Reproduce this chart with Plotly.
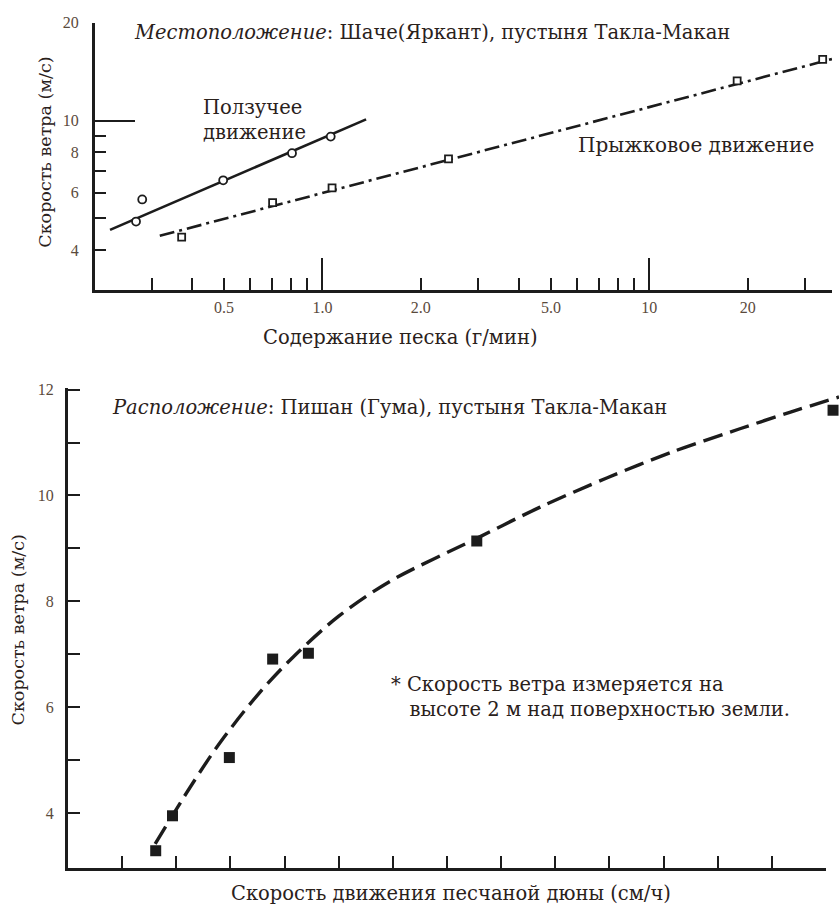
import math
import plotly.graph_objects as go

W, H = 839, 907

# ---- upper panel: wind speed vs. sand content (log-log) ----
creep_x = [0.269, 0.281, 0.497, 0.807, 1.06]
creep_y = [4.89, 5.72, 6.55, 7.94, 8.93]
creep_fit_x = [0.224, 1.36]
creep_fit_y = [4.61, 10.09]

salt_x = [0.371, 0.704, 1.07, 2.43, 18.56, 33.9]
salt_y = [4.38, 5.59, 6.21, 7.63, 13.25, 15.44]
salt_fit_x = [0.318, 36.4]
salt_fit_y = [4.42, 15.5]

top_xticks = [0.3, 0.4, 0.5, 0.6, 0.7, 0.8, 0.9, 1, 2, 3, 4, 5, 6, 7, 8, 9, 10, 20, 30]
top_xlabels = ["", "", "0.5", "", "", "", "", "1.0", "2.0", "", "", "5.0", "", "", "", "", "10", "20", ""]
top_xlong = [1, 10]
top_yticks = [4, 5, 6, 7, 8, 9, 10, 20]
top_ylabels = ["4", "", "6", "", "8", "", "10", "20"]
top_ylong = [10]

# ---- lower panel: wind speed vs. dune migration speed ----
dune_x = [1.62, 1.93, 2.98, 3.78, 4.44, 7.55, 14.13]
dune_y = [3.29, 3.95, 5.05, 6.91, 7.02, 9.14, 11.61]
curve_x = [1.61, 2.25, 2.8, 3.5, 4.16, 5.0, 5.95, 7.55, 8.72, 9.95, 11.18, 12.41, 13.33, 14.24]
curve_y = [3.42, 4.48, 5.32, 6.23, 6.95, 7.72, 8.38, 9.19, 9.78, 10.33, 10.83, 11.26, 11.57, 11.86]

bot_xticks = list(range(1, 15))
bot_yticks = [4, 5, 6, 7, 8, 9, 10, 11, 12]
bot_ylabels = ["4", "", "6", "", "8", "", "10", "", "12"]

INK = "#1c1c1c"
TXT = "#2a211b"
TICKTXT = "#5a4a3c"
SERIF = "DejaVu Serif"
TICKFONT = dict(family="Liberation Serif", size=16, color=TICKTXT)


def px_x(p):
    return p / W


def px_y(p):
    return 1 - p / H


fig = go.Figure()

# upper panel traces
fig.add_trace(go.Scatter(x=creep_fit_x, y=creep_fit_y, mode="lines",
                         line=dict(color=INK, width=2.6), xaxis="x", yaxis="y",
                         showlegend=False, hoverinfo="skip"))
fig.add_trace(go.Scatter(x=salt_fit_x, y=salt_fit_y, mode="lines",
                         line=dict(color=INK, width=2.6, dash="15px,5px,3px,5px"),
                         xaxis="x", yaxis="y", showlegend=False, hoverinfo="skip"))
fig.add_trace(go.Scatter(x=creep_x, y=creep_y, mode="markers",
                         marker=dict(symbol="circle", size=8, color="white",
                                     line=dict(color=INK, width=1.8)),
                         xaxis="x", yaxis="y", showlegend=False))
fig.add_trace(go.Scatter(x=salt_x, y=salt_y, mode="markers",
                         marker=dict(symbol="square", size=7, color="white",
                                     line=dict(color=INK, width=1.8)),
                         xaxis="x", yaxis="y", showlegend=False))
# empty traces so the long-tick overlay axes get rendered
fig.add_trace(go.Scatter(x=[], y=[], xaxis="x3", yaxis="y3", showlegend=False))

# lower panel traces
fig.add_trace(go.Scatter(x=curve_x, y=curve_y, mode="lines",
                         line=dict(color=INK, width=3.4, dash="20px,8px", shape="spline",
                                   smoothing=0.9),
                         xaxis="x2", yaxis="y2", showlegend=False, hoverinfo="skip"))
fig.add_trace(go.Scatter(x=dune_x, y=dune_y, mode="markers",
                         marker=dict(symbol="square", size=11, color=INK),
                         xaxis="x2", yaxis="y2", showlegend=False, cliponaxis=False))
fig.add_trace(go.Scatter(x=[], y=[], xaxis="x4", yaxis="y2", showlegend=False))

top_xrange = [math.log10(0.2015), math.log10(36.2)]
top_yrange = [math.log10(3.0), math.log10(20.0)]
top_xdom = [px_x(95), px_x(832)]
top_ydom = [px_y(285), px_y(15)]

bot_ydom = [px_y(867.7), px_y(383)]
bot_yrange = [2.963, 12.037]

axis_common = dict(showgrid=False, zeroline=False, ticks="inside", tickcolor=INK,
                   tickwidth=2.2, linecolor=INK)

fig.update_layout(
    width=W, height=H,
    margin=dict(l=0, r=0, t=0, b=0),
    paper_bgcolor="white", plot_bgcolor="rgba(0,0,0,0)",
    showlegend=False,
    xaxis=dict(type="log", domain=top_xdom, range=top_xrange, anchor="y",
               tickmode="array", tickvals=top_xticks, ticktext=top_xlabels,
               ticklen=12, showline=True, linewidth=3, tickfont=TICKFONT,
               ticklabelstandoff=0, **axis_common),
    xaxis3=dict(type="log", overlaying="x", range=top_xrange, anchor="y",
                tickmode="array", tickvals=top_xlong, ticklen=32,
                showticklabels=False, showline=False, **axis_common),
    yaxis=dict(type="log", domain=top_ydom, range=top_yrange, anchor="x",
               tickmode="array", tickvals=top_yticks, ticktext=top_ylabels,
               ticklen=11, showline=True, linewidth=3, tickfont=TICKFONT,
               ticklabelstandoff=10, **axis_common),
    yaxis3=dict(type="log", overlaying="y", range=top_yrange, anchor="x",
                tickmode="array", tickvals=top_ylong, ticklen=40,
                showticklabels=False, showline=False, **axis_common),
    xaxis2=dict(domain=[px_x(68), 1.0], range=[0, 14.24], anchor="y2", visible=False),
    xaxis4=dict(domain=[px_x(68), px_x(826)], range=[0, 14], anchor="y2",
                tickmode="array", tickvals=bot_xticks, ticklen=12,
                showticklabels=False, showline=True, linewidth=3, **axis_common),
    yaxis2=dict(domain=bot_ydom, range=bot_yrange, anchor="x2",
                tickmode="array", tickvals=bot_yticks, ticktext=bot_ylabels,
                ticklen=12, showline=True, linewidth=3, tickfont=TICKFONT,
                ticklabelstandoff=8, **axis_common),
)


def note(text, x, y, size, xanchor="left", angle=0):
    fig.add_annotation(text=text, x=px_x(x), y=px_y(y), xref="paper", yref="paper",
                       xanchor=xanchor, yanchor="middle", showarrow=False,
                       textangle=angle, align="left",
                       font=dict(family=SERIF, size=size, color=TXT))


note("<i>Местоположение</i>: Шаче(Яркант), пустыня Такла-Макан", 132, 25, 19.5)
note("Ползучее<br>движение", 201, 113, 19.5)
note("Прыжковое движение", 576, 138, 20)
note("Содержание песка (г/мин)", 400, 332, 19.5, xanchor="center")
note("Скорость ветра (м/с)", 45, 146, 17.5, xanchor="center", angle=-90)

note("<i>Расположение</i>: Пишан (Гума), пустыня Такла-Макан", 110, 403, 19.5)
note("* Скорость ветра измеряется на<br>   высоте 2 м над поверхностью земли.", 389, 695, 19.5)
note("Скорость движения песчаной дюны (см/ч)", 451, 893, 19.5, xanchor="center")
note("Скорость ветра (м/с)", 18, 628, 17.5, xanchor="center", angle=-90)

fig.write_html("out.html")
